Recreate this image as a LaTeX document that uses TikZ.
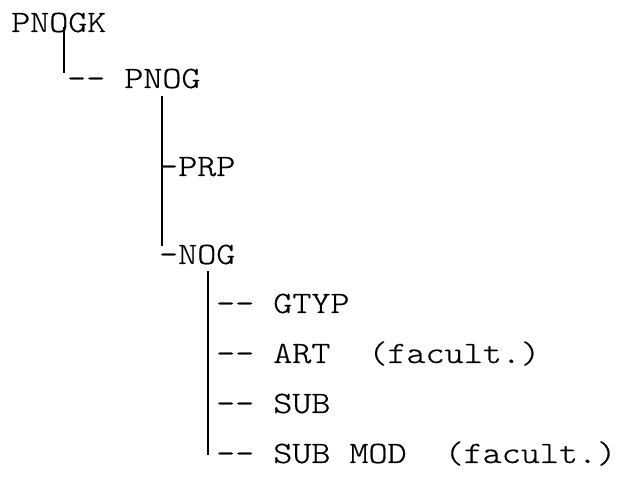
\documentclass[tikz,border=0pt]{standalone}
\usepackage{fontspec}
\setmonofont{Latin Modern Mono Light}[FakeStretch=1.17,FakeBold=0.6]
\begin{document}
\begin{tikzpicture}[x=1pt,y=1pt,
  lbl/.style={anchor=base west,inner sep=0pt,font=\ttfamily\fontsize{31}{37}\selectfont},
  stem/.style={line width=1.6pt}]
\useasboundingbox (0,0) rectangle (621,479);
% tree labels (y measured downwards from the top edge)
\node[lbl] (pnogk) at (11,479-32) {PNOGK};
\node[lbl] (pnog)  at (67,479-88) {-- PNOG};
\node[lbl] (prp)   at (159,479-176) {-PRP};
\node[lbl] (nog)   at (159,479-264) {-NOG};
\node[lbl] (gtyp)  at (216,479-313) {-- GTYP};
\node[lbl] (art)   at (216,479-363) {-- ART\ \ (facult.)};
\node[lbl] (sub)   at (216,479-413) {-- SUB};
\node[lbl] (submod) at (216,479-463) {—- SUB MOD\ \ (facult.)};
% ends of the vertical stems
\coordinate (s1a) at (64,479-27);
\coordinate (s1b) at (64,479-73);
\coordinate (s2a) at (162,479-96);
\coordinate (s2b) at (162,479-246);
\coordinate (s3a) at (208,479-271);
\coordinate (s3b) at (208,479-455);
\draw[stem] (s1a) -- (s1b);
\draw[stem] (s2a) -- (s2b);
\draw[stem] (s3a) -- (s3b);
\end{tikzpicture}
\end{document}
